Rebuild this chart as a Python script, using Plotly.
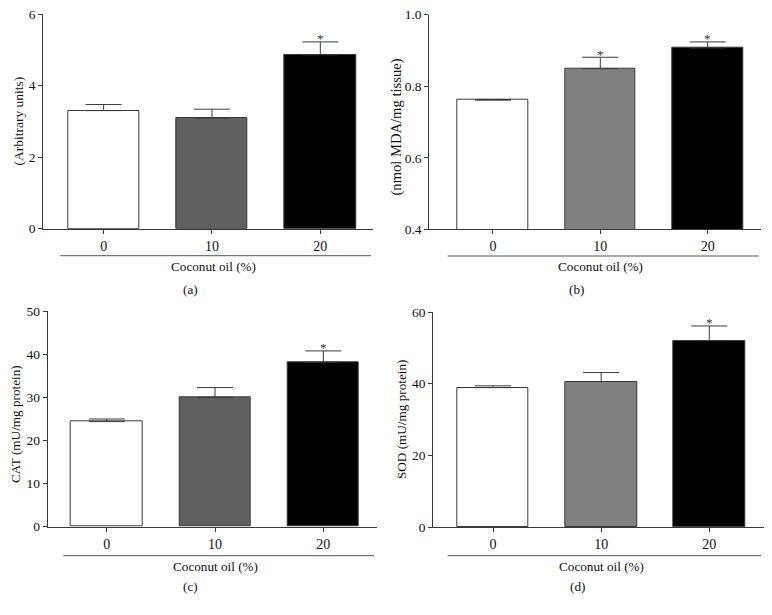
import plotly.graph_objects as go

categories = ["0", "10", "20"]
x_pos = [0, 1, 2]

a_vals = [3.30, 3.09, 4.86]
a_err = [0.17, 0.25, 0.36]
a_sig = [False, False, True]

b_vals = [0.761, 0.849, 0.907]
b_err = [0.002, 0.032, 0.017]
b_sig = [False, True, True]

c_vals = [24.4, 30.0, 38.2]
c_err = [0.6, 2.3, 2.6]
c_sig = [False, False, True]

d_vals = [38.9, 40.6, 52.0]
d_err = [0.5, 2.5, 4.1]
d_sig = [False, False, True]

y_titles = ["(Arbitrary units)", "(nmol MDA/mg tissue)", "CAT (mU/mg protein)", "SOD (mU/mg protein)"]
panel_labels = ["(a)", "(b)", "(c)", "(d)"]
x_title = "Coconut oil (%)"

# the page body keeps its default 8px margin, so the figure is sized to fit inside it
OFF = 8
W, H = 772 - 2 * OFF, 615 - 2 * OFF
FONT = "Liberation Serif"


def px_x(v):
    return (v - OFF) / W


def px_y(v):
    return 1 - (v - OFF) / H


panels = [
    dict(vals=a_vals, err=a_err, sig=a_sig, colors=["#ffffff", "#606060", "#000000"],
         xpx=(43.3, 373.3), ypx=(228.7, 14.0), yrange=[0, 6], ytick=[0, 2, 4, 6], yfmt=None,
         xrange=[-0.557, 2.489], bracket=(60.3, 371, 255.7), xt=(213, 266), pl=(190, 289.5),
         yt=(18, 121.5), ytsize=13.5),
    dict(vals=b_vals, err=b_err, sig=b_sig, colors=["#ffffff", "#808080", "#000000"],
         xpx=(429.3, 761.0), ypx=(229.3, 14.7), yrange=[0.4, 1.0], ytick=[0.4, 0.6, 0.8, 1.0], yfmt=".1f",
         xrange=[-0.593, 2.497], bracket=(447.7, 758.7, 256.0), xt=(600, 266), pl=(576, 289.5),
         yt=(396.5, 127), ytsize=14.6),
    dict(vals=c_vals, err=c_err, sig=c_sig, colors=["#ffffff", "#606060", "#000000"],
         xpx=(47.7, 376.7), ypx=(526.7, 311.3), yrange=[0, 50], ytick=[0, 10, 20, 30, 40, 50], yfmt=None,
         xrange=[-0.545, 2.493], bracket=(63.3, 374, 555.7), xt=(215, 566), pl=(190, 586),
         yt=(15, 424), ytsize=13.2),
    dict(vals=d_vals, err=d_err, sig=d_sig, colors=["#ffffff", "#808080", "#000000"],
         xpx=(433.3, 763.7), ypx=(527.0, 312.0), yrange=[0, 60], ytick=[0, 20, 40, 60], yfmt=None,
         xrange=[-0.552, 2.503], bracket=(447.7, 761.0, 555.7), xt=(601, 566), pl=(577, 586),
         yt=(401, 420), ytsize=13.2),
]

fig = go.Figure()
annotations = []
shapes = []

for i, p in enumerate(panels):
    n = "" if i == 0 else str(i + 1)
    xa, ya = "x" + n, "y" + n
    fig.add_trace(go.Bar(
        x=x_pos, y=p["vals"], width=0.66,
        marker=dict(color=p["colors"], line=dict(color="#3a3a3a", width=1)),
        error_y=dict(type="data", array=p["err"], symmetric=False, arrayminus=[0, 0, 0],
                     color="#3a3a3a", thickness=1, width=18),
        xaxis=xa, yaxis=ya, showlegend=False, hoverinfo="skip",
    ))
    x0, x1 = p["xpx"]
    yb, yt_ = p["ypx"]
    xkey = "xaxis" + n
    ykey = "yaxis" + n
    fig.layout[xkey] = dict(
        domain=[px_x(x0), px_x(x1)], range=p["xrange"], anchor=ya, automargin=False,
        tickvals=x_pos, ticktext=categories, ticks="outside", ticklen=4, tickwidth=1,
        tickcolor="#3a3a3a", showline=True, linecolor="#3a3a3a", linewidth=1,
        showgrid=False, zeroline=False, fixedrange=True, ticklabeloverflow="allow",
        tickfont=dict(family=FONT, size=14, color="#111"),
    )
    yax = dict(
        domain=[px_y(yb), px_y(yt_)], range=p["yrange"], anchor=xa, automargin=False,
        tickvals=p["ytick"], ticks="outside", ticklen=4, tickwidth=1,
        tickcolor="#3a3a3a", showline=True, linecolor="#3a3a3a", linewidth=1,
        showgrid=False, zeroline=False, fixedrange=True, ticklabeloverflow="allow",
        tickfont=dict(family=FONT, size=13.5, color="#111"),
    )
    if p["yfmt"]:
        yax["tickformat"] = p["yfmt"]
    fig.layout[ykey] = yax

    # significance asterisks
    for xi, v, e, s in zip(x_pos, p["vals"], p["err"], p["sig"]):
        if s:
            annotations.append(dict(x=xi, y=v + e, xref=xa, yref=ya, text="*", showarrow=False,
                                    yanchor="middle", yshift=3,
                                    font=dict(family=FONT, size=13, color="#333")))
    bx0, bx1, by = p["bracket"]
    shapes.append(dict(type="line", xref="paper", yref="paper", x0=px_x(bx0), x1=px_x(bx1),
                       y0=px_y(by), y1=px_y(by), line=dict(color="#555", width=1)))
    annotations.append(dict(x=px_x(p["xt"][0]), y=px_y(p["xt"][1]), xref="paper", yref="paper",
                            text=x_title, showarrow=False, xanchor="center", yanchor="middle",
                            font=dict(family=FONT, size=13.2, color="#111")))
    annotations.append(dict(x=px_x(p["pl"][0]), y=px_y(p["pl"][1]), xref="paper", yref="paper",
                            text=panel_labels[i], showarrow=False, xanchor="center", yanchor="middle",
                            font=dict(family=FONT, size=13.2, color="#111")))
    annotations.append(dict(x=px_x(p["yt"][0]), y=px_y(p["yt"][1]), xref="paper", yref="paper",
                            text=y_titles[i], showarrow=False, xanchor="center", yanchor="middle",
                            textangle=-90, font=dict(family=FONT, size=p["ytsize"], color="#111")))

fig.update_layout(
    width=W, height=H, margin=dict(l=0, r=0, t=0, b=0, autoexpand=False),
    paper_bgcolor="white", plot_bgcolor="white",
    annotations=annotations, shapes=shapes, bargap=0,
)

fig.write_html("out.html")
